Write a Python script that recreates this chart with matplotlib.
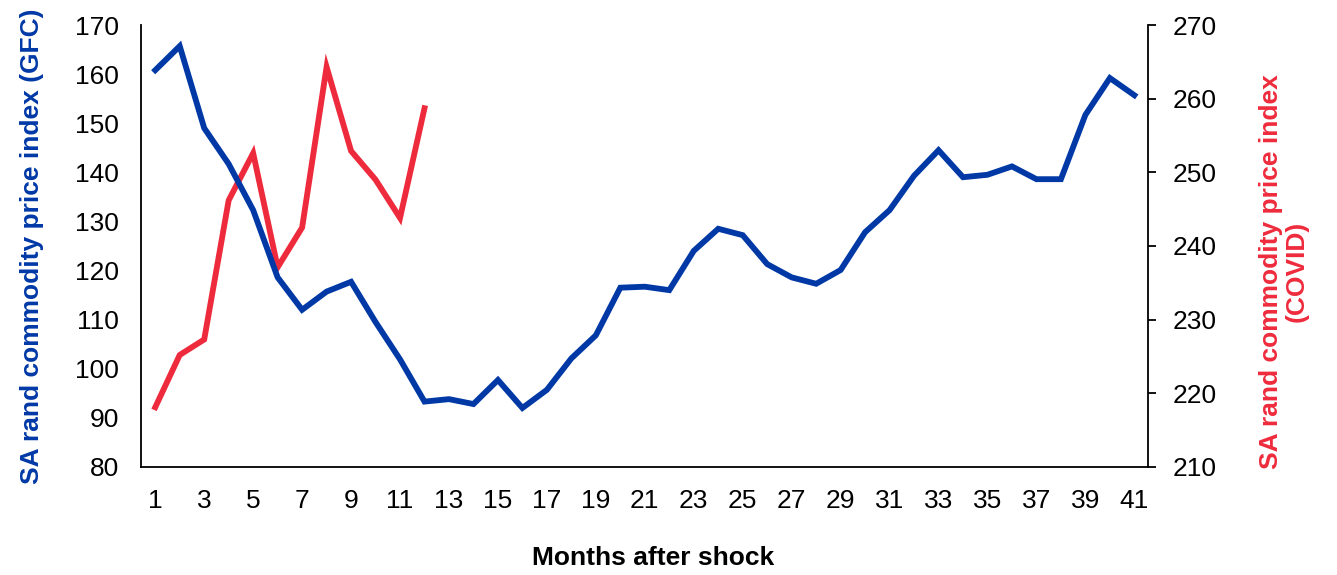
import matplotlib
matplotlib.use('Agg')
import matplotlib.pyplot as plt

plt.rcParams['font.family'] = ['Liberation Sans', 'DejaVu Sans']

months = list(range(1, 42))
gfc = [160.8, 165.7, 149.0, 141.7, 132.3, 118.6, 112.0, 115.7, 117.7, 109.5,
       101.9, 93.3, 93.8, 92.8, 97.7, 92.0, 95.7, 102.1, 106.8, 116.5,
       116.7, 116.0, 124.0, 128.5, 127.2, 121.3, 118.6, 117.3, 120.1, 127.8,
       132.3, 139.3, 144.5, 139.0, 139.5, 141.2, 138.6, 138.6, 151.7, 159.2,
       155.7]
covid_months = list(range(1, 13))
covid = [218.1, 225.2, 227.3, 246.2, 252.6, 237.1, 242.5, 264.3, 252.9, 249.0,
         243.8, 258.7]

blue = '#0039A6'
red = '#EE2B3C'

fig = plt.figure(figsize=(13.37, 5.75), dpi=100)
ax = fig.add_axes([0.1055, 0.188, 0.753, 0.7685])
ax2 = ax.twinx()

ax.plot(months, gfc, color=blue, lw=4.2, solid_joinstyle='miter', zorder=3)
ax2.plot(covid_months, covid, color=red, lw=4.2, solid_joinstyle='miter')
ax.set_zorder(ax2.get_zorder() + 1)
ax.patch.set_visible(False)

ax.set_xlim(0.42, 41.55)
ax.set_ylim(80, 170)
ax2.set_ylim(210, 270)
ax.set_xticks(months[::2])
ax.set_yticks(range(80, 171, 10))
ax2.set_yticks(range(210, 271, 10))

for a in (ax, ax2):
    a.spines['top'].set_visible(False)
    a.spines['left'].set_linewidth(1.3)
    a.spines['bottom'].set_linewidth(1.3)
    a.spines['right'].set_linewidth(1.3)
ax.spines['right'].set_visible(False)
ax2.spines['left'].set_visible(False)
ax2.spines['bottom'].set_visible(False)

ax.tick_params(axis='x', length=0, labelsize=19, pad=16)
ax.tick_params(axis='y', length=0, labelsize=19, pad=16)
ax2.tick_params(axis='y', length=6, width=1.3, direction='out', labelsize=19, pad=12)

ax.set_xlabel('Months after shock', fontsize=19, fontweight='bold', labelpad=24)
ax.xaxis.label.set_x(0.509)
ax.set_ylabel('SA rand commodity price index (GFC)', fontsize=19,
              fontweight='bold', color=blue, labelpad=22)
ax2.set_ylabel('SA rand commodity price index\n(COVID)', fontsize=19,
               fontweight='bold', color=red, labelpad=30, linespacing=1.1)
ax2.yaxis.label.set_y(0.443)

fig.savefig('out.png', dpi=100)
